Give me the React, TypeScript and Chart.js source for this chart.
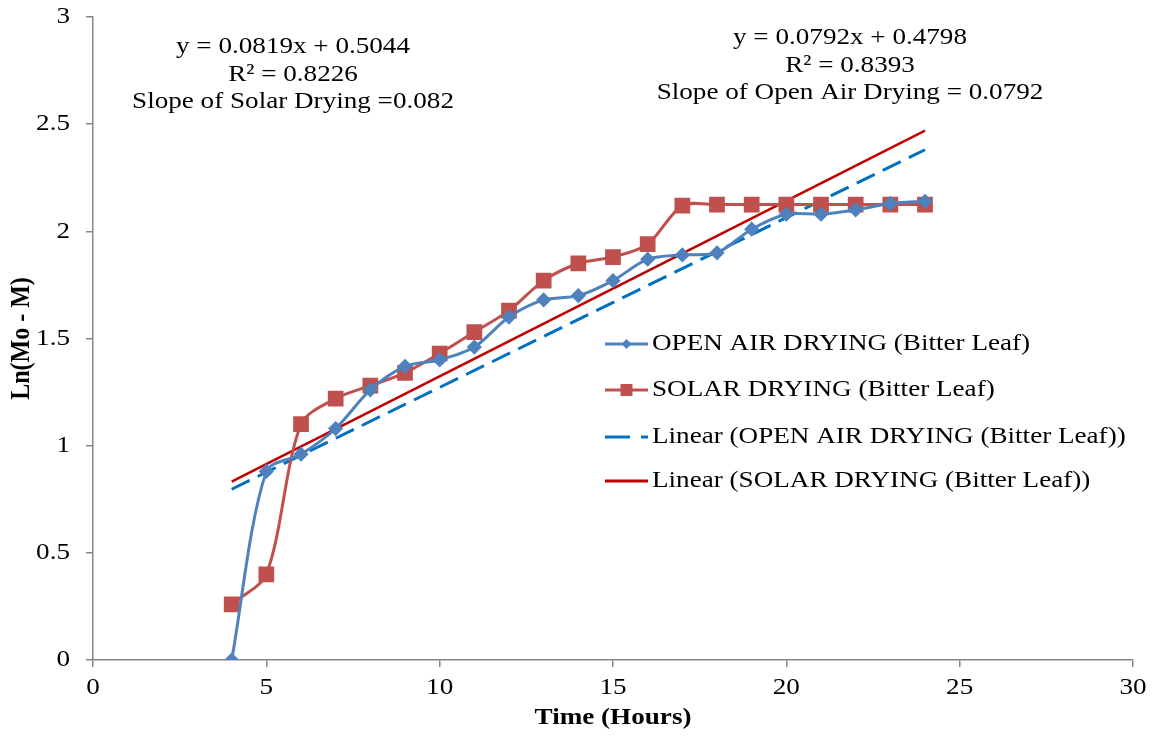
import React, { useEffect, useRef } from "react";
import { Chart, registerables } from "chart.js";

Chart.register(...registerables);

const hours = [4, 5, 6, 7, 8, 9, 10, 11, 12, 13, 14, 15, 16, 17, 18, 19, 20, 21, 22, 23, 24];
const openAir = [0, 0.88, 0.96, 1.08, 1.26, 1.37, 1.4, 1.46, 1.6, 1.68, 1.7, 1.77, 1.87, 1.89, 1.9, 2.01, 2.08, 2.08, 2.1, 2.13, 2.14];
const solar = [0.26, 0.4, 1.1, 1.22, 1.28, 1.34, 1.43, 1.53, 1.63, 1.77, 1.85, 1.88, 1.94, 2.12, 2.125, 2.125, 2.125, 2.125, 2.125, 2.125, 2.125];

const openTrend = [0.0792, 0.4798]; // slope, intercept
const solarTrend = [0.0819, 0.5044];

const seriesNames = [
  "OPEN AIR DRYING (Bitter Leaf)",
  "SOLAR DRYING (Bitter Leaf)",
  "Linear (OPEN AIR DRYING (Bitter Leaf))",
  "Linear (SOLAR DRYING (Bitter Leaf))",
];
const solarLabel = ["y = 0.0819x + 0.5044", "R² = 0.8226", "Slope of Solar Drying =0.082"];
const openLabel = ["y = 0.0792x + 0.4798", "R² = 0.8393", "Slope of Open Air Drying = 0.0792"];

const xTicks = [0, 5, 10, 15, 20, 25, 30];
const yTicks = [0, 0.5, 1, 1.5, 2, 2.5, 3];
const xTitle = "Time (Hours)";
const yTitle = "Ln(Mo - M)";

const FONT = "'Liberation Serif', 'Times New Roman', serif";
const SX = 1.13;
const C_OPEN = "#4F81BD";
const C_SOLAR = "#C0504D";
const C_OPEN_LIN = "#0070C0";
const C_SOLAR_LIN = "#C00000";

const trendPts = (c: number[]) => {
  const x0 = hours[0];
  const x1 = hours[hours.length - 1];
  return [
    { x: x0, y: c[0] * x0 + c[1] },
    { x: x1, y: c[0] * x1 + c[1] },
  ];
};

const stretchText = (ctx: any, t: string, x: number, y: number) => {
  ctx.save();
  ctx.translate(x, y);
  ctx.scale(SX, 1);
  ctx.fillText(t, 0, 0);
  ctx.restore();
};

const textPlugin = {
  id: "textPlugin",
  afterDraw(chart: any) {
    const ctx = chart.ctx;
    const xs = chart.scales.x;
    const ys = chart.scales.y;
    ctx.save();
    ctx.fillStyle = "#000";
    ctx.font = `24px ${FONT}`;
    ctx.textBaseline = "middle";

    // tick labels
    ctx.textAlign = "center";
    xTicks.forEach((v) => stretchText(ctx, String(v), xs.getPixelForValue(v), 688));
    ctx.textAlign = "right";
    yTicks.forEach((v) => stretchText(ctx, String(v), 70, ys.getPixelForValue(v)));

    // axis titles
    ctx.font = `bold 24px ${FONT}`;
    ctx.textAlign = "center";
    stretchText(ctx, xTitle, (xs.left + xs.right) / 2, 718);
    ctx.save();
    ctx.translate(22, (ys.top + ys.bottom) / 2);
    ctx.scale(SX, 1);
    ctx.rotate(-Math.PI / 2);
    ctx.fillText(yTitle, 0, 0);
    ctx.restore();

    // annotations
    ctx.font = `24px ${FONT}`;
    ctx.textAlign = "center";
    const lh = 27.5;
    solarLabel.forEach((t, i) => stretchText(ctx, t, 293, 47 + i * lh));
    openLabel.forEach((t, i) => stretchText(ctx, t, 850, 38 + i * lh));

    // legend
    const rows = [344, 390, 437, 481];
    const x0 = 605;
    const x1 = 648;
    ctx.textAlign = "left";
    rows.forEach((y, i) => {
      ctx.save();
      ctx.lineWidth = 3;
      if (i === 0) ctx.strokeStyle = C_OPEN;
      if (i === 1) ctx.strokeStyle = C_SOLAR;
      if (i === 2) {
        ctx.strokeStyle = C_OPEN_LIN;
        ctx.setLineDash([25, 11]);
      }
      if (i === 3) ctx.strokeStyle = C_SOLAR_LIN;
      ctx.beginPath();
      ctx.moveTo(x0, y);
      ctx.lineTo(x1, y);
      ctx.stroke();
      ctx.restore();
      const cx = (x0 + x1) / 2;
      if (i === 0) {
        ctx.fillStyle = C_OPEN;
        ctx.beginPath();
        ctx.moveTo(cx, y - 5);
        ctx.lineTo(cx + 5, y);
        ctx.lineTo(cx, y + 5);
        ctx.lineTo(cx - 5, y);
        ctx.closePath();
        ctx.fill();
      }
      if (i === 1) {
        ctx.fillStyle = C_SOLAR;
        ctx.fillRect(cx - 6, y - 6, 12, 12);
      }
      ctx.fillStyle = "#000";
      stretchText(ctx, seriesNames[i], 652, y);
    });
    ctx.restore();
  },
};

export default function App() {
  const ref = useRef<HTMLCanvasElement | null>(null);
  useEffect(() => {
    if (!ref.current) return;
    const chart = new Chart(ref.current, {
      type: "line",
      data: {
        datasets: [
          {
            label: seriesNames[0],
            data: hours.map((h, i) => ({ x: h, y: openAir[i] })),
            borderColor: C_OPEN,
            backgroundColor: C_OPEN,
            borderWidth: 3,
            pointStyle: "rectRot",
            pointRadius: 5.5,
            tension: 0.3,
          },
          {
            label: seriesNames[1],
            data: hours.map((h, i) => ({ x: h, y: solar[i] })),
            borderColor: C_SOLAR,
            backgroundColor: C_SOLAR,
            borderWidth: 3,
            pointStyle: "rect",
            pointRadius: 9,
            tension: 0.3,
          },
          {
            label: seriesNames[2],
            data: trendPts(openTrend),
            borderColor: C_OPEN_LIN,
            borderWidth: 3,
            borderDash: [20, 9],
            pointRadius: 0,
          },
          {
            label: seriesNames[3],
            data: trendPts(solarTrend),
            borderColor: C_SOLAR_LIN,
            borderWidth: 2.5,
            pointRadius: 0,
          },
        ],
      },
      options: {
        animation: false,
        responsive: false,
        maintainAspectRatio: false,
        layout: { padding: { left: 0, top: 17, right: 23, bottom: 0 } },
        plugins: { legend: { display: false }, tooltip: { enabled: false } },
        scales: {
          x: {
            type: "linear",
            min: 0,
            max: 30,
            afterBuildTicks: (s: any) => {
              s.ticks = xTicks.map((v) => ({ value: v }));
            },
            afterFit: (s: any) => {
              s.height = 76;
            },
            ticks: { display: false },
            grid: { drawOnChartArea: false, tickLength: 7, color: "#868686", lineWidth: 1.5 },
            border: { color: "#868686", width: 1.5 },
            title: { display: false },
          },
          y: {
            type: "linear",
            min: 0,
            max: 3,
            afterBuildTicks: (s: any) => {
              s.ticks = yTicks.map((v) => ({ value: v }));
            },
            afterFit: (s: any) => {
              s.width = 93;
            },
            ticks: { display: false },
            grid: { drawOnChartArea: false, tickLength: 7, color: "#868686", lineWidth: 1.5 },
            border: { color: "#868686", width: 1.5 },
            title: { display: false },
          },
        },
      },
      plugins: [textPlugin],
    } as any);
    return () => chart.destroy();
  }, []);
  return (
    <div style={{ position: "absolute", left: 0, top: 0, width: 1156, height: 736, background: "#fff" }}>
      <canvas ref={ref} width={1156} height={736} style={{ display: "block" }} />
    </div>
  );
}
